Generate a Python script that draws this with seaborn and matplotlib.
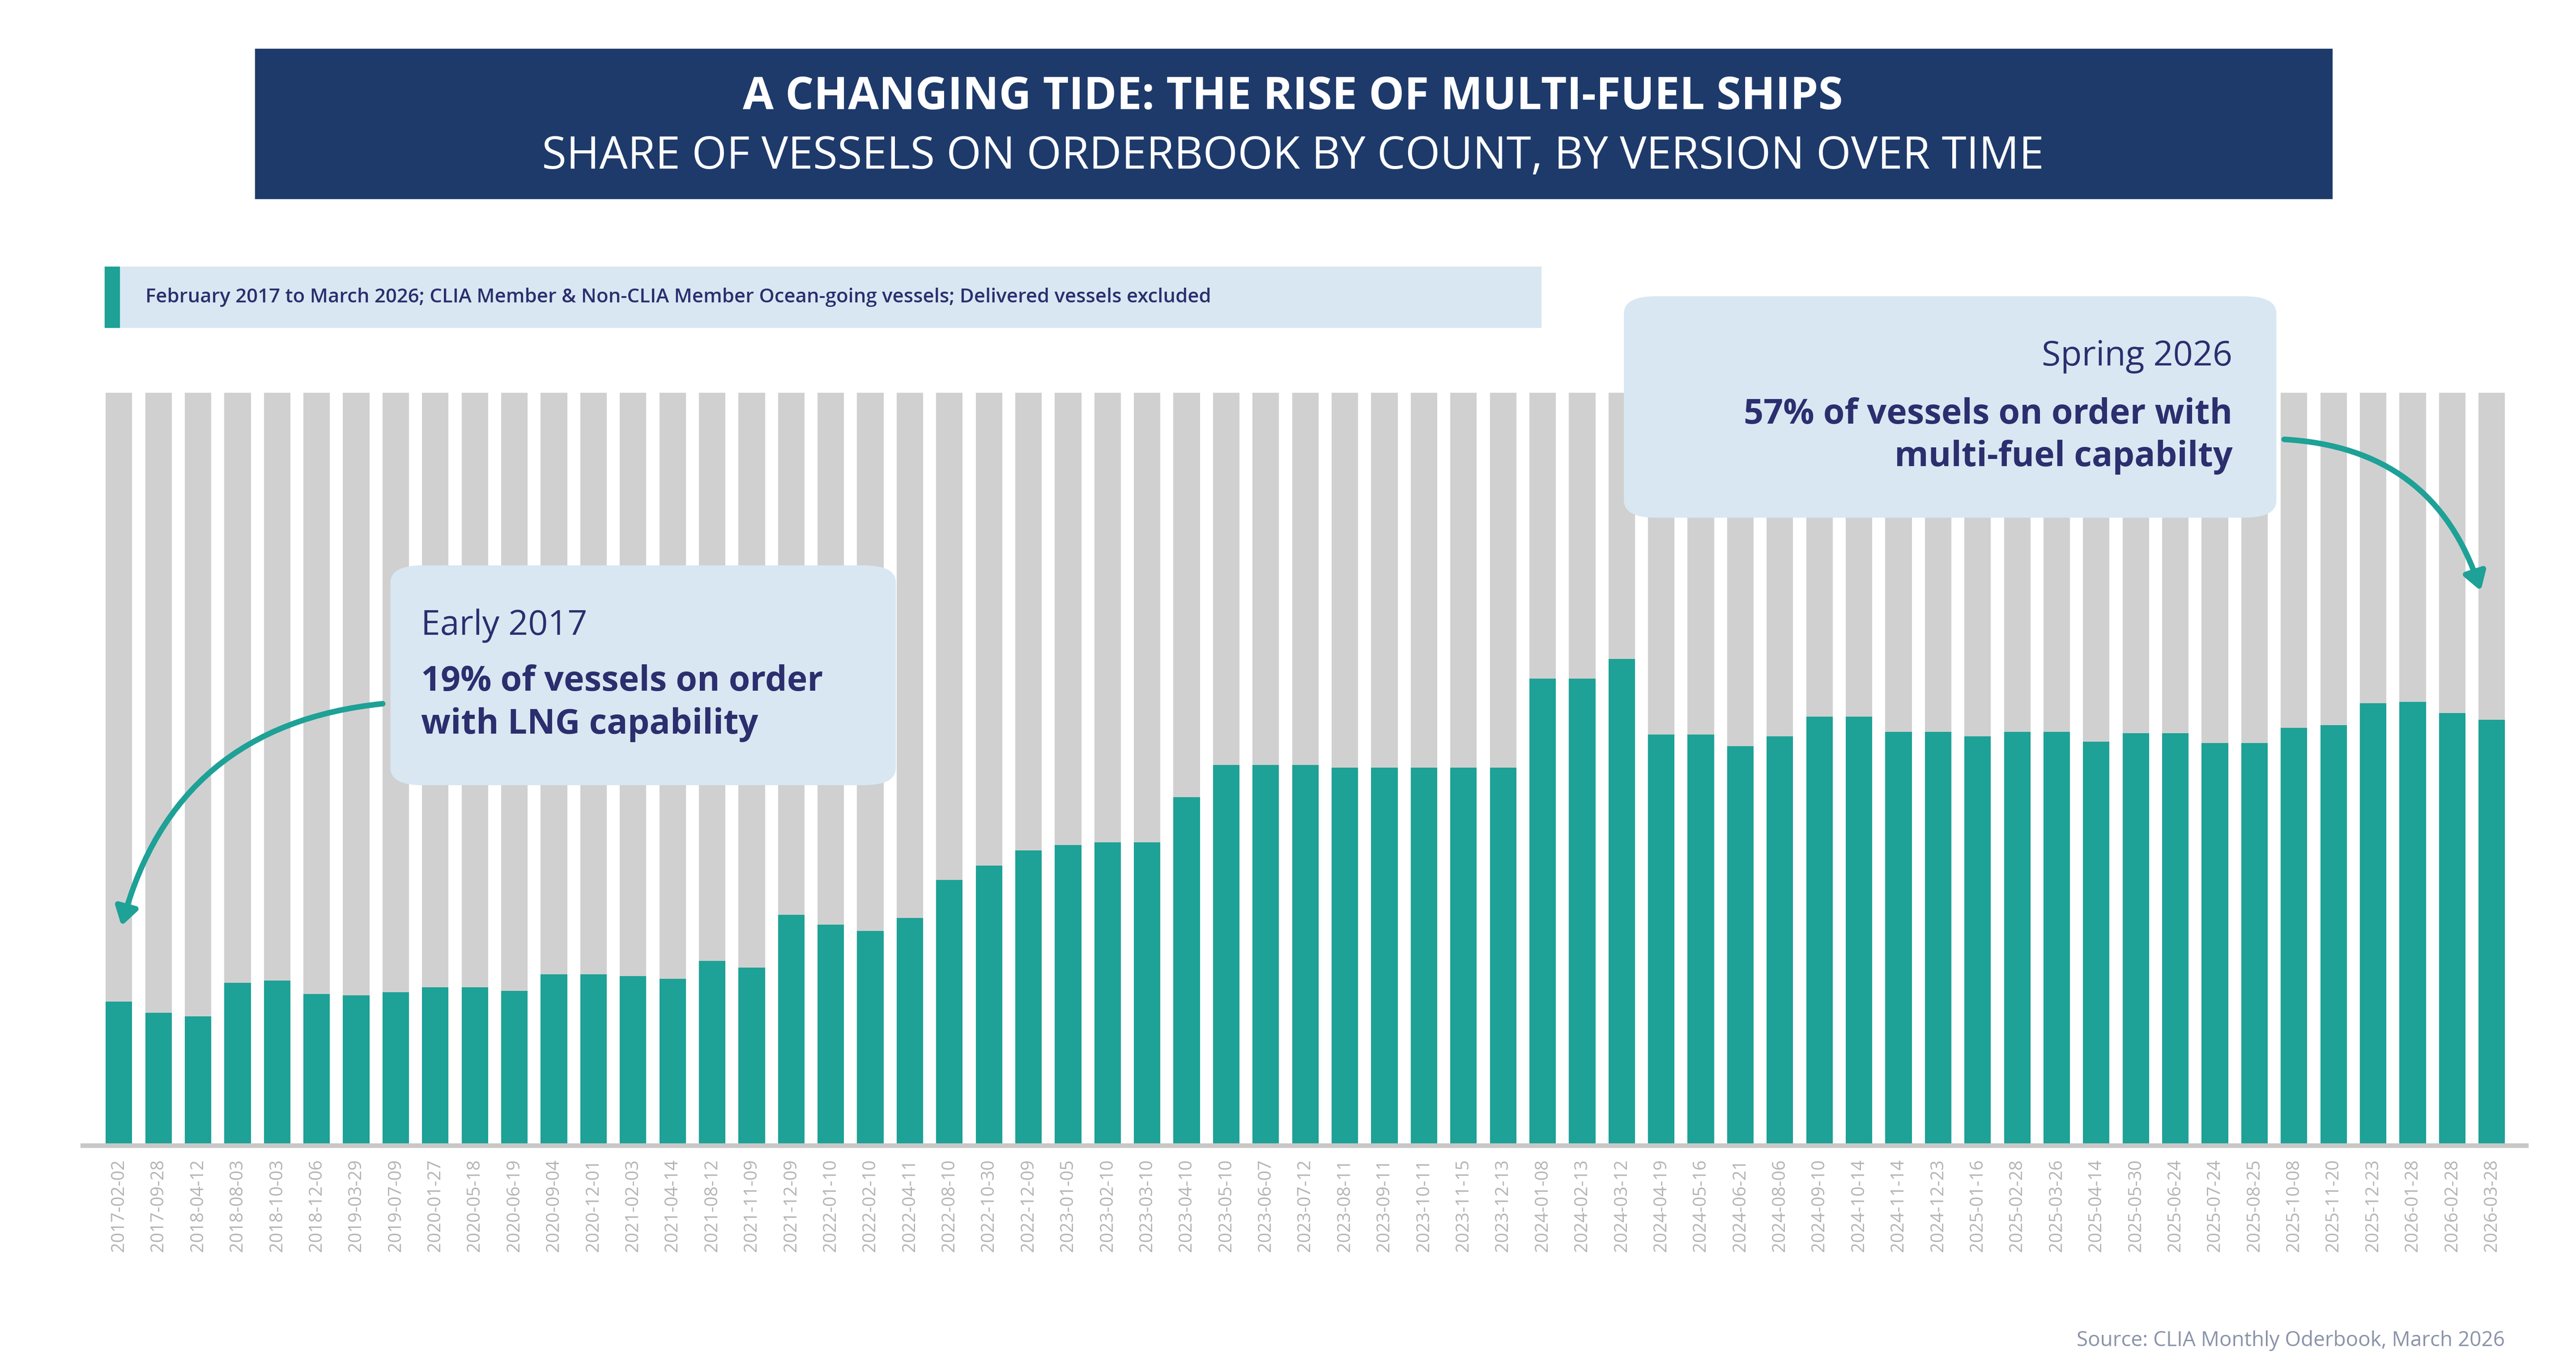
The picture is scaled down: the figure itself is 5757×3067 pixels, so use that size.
import matplotlib
matplotlib.use("Agg")
import matplotlib.pyplot as plt
import seaborn as sns
import pandas as pd
from matplotlib.patches import FancyBboxPatch, Rectangle, FancyArrowPatch

dates = ["2017-02-02","2017-09-28","2018-04-12","2018-08-03","2018-10-03","2018-12-06","2019-03-29","2019-07-09",
"2020-01-27","2020-05-18","2020-06-19","2020-09-04","2020-12-01","2021-02-03","2021-04-14","2021-08-12","2021-11-09",
"2021-12-09","2022-01-10","2022-02-10","2022-04-11","2022-08-10","2022-10-30","2022-12-09","2023-01-05","2023-02-10",
"2023-03-10","2023-04-10","2023-05-10","2023-06-07","2023-07-12","2023-08-11","2023-09-11","2023-10-11","2023-11-15",
"2023-12-13","2024-01-08","2024-02-13","2024-03-12","2024-04-19","2024-05-16","2024-06-21","2024-08-06","2024-09-10",
"2024-10-14","2024-11-14","2024-12-23","2025-01-16","2025-02-28","2025-03-26","2025-04-14","2025-05-30","2025-06-24",
"2025-07-24","2025-08-25","2025-10-08","2025-11-20","2025-12-23","2026-01-28","2026-02-28","2026-03-28"]
multi_fuel = [19,17.5,17,21.5,21.8,20,19.8,20.2,20.9,20.9,20.4,22.6,22.6,22.4,22,24.4,23.5,
30.5,29.2,28.4,30.1,35.2,37.1,39.1,39.8,40.2,40.2,46.2,50.5,50.5,50.5,50.1,50.1,50.1,50.1,
50.1,62,62,64.6,54.5,54.5,53,54.3,56.9,56.9,54.9,54.9,54.3,54.9,54.9,53.6,54.7,54.7,53.4,53.4,
55.4,55.8,58.7,58.9,57.4,56.5]
total = [100]*len(dates)

navy = "#1e3a6b"; teal = "#1ea196"; grey = "#d0d0d0"; light = "#d8e7f2"; txt = "#2b2f6e"
df = pd.DataFrame({"date": dates, "multi": multi_fuel, "total": total})

W, H = 5757, 3067
fig = plt.figure(figsize=(W/300, H/300), dpi=300)
plt.rcParams['font.family'] = ['Open Sans', 'DejaVu Sans']
L, R, B, T = 64/1560, 1517/1560, 1-693/831, 1-238/831
ax = fig.add_axes([L, B, R-L, T-B])
sns.barplot(data=df, x="date", y="total", color=grey, width=0.67, ax=ax, saturation=1)
sns.barplot(data=df, x="date", y="multi", color=teal, width=0.67, ax=ax, saturation=1)
n = len(dates)
ax.set_xlim(-0.5+0.165, n-0.5-0.165)
ax.set_ylim(0, 100)
ax.set_xlabel(""); ax.set_ylabel(""); ax.set_yticks([])
for s in ax.spines.values(): s.set_visible(False)
ax.tick_params(axis="x", length=0, pad=8, labelsize=9.5, labelcolor="#b4b4b4", rotation=90)
fig.add_artist(plt.Line2D([50/1560, 1530/1560], [B-0.001, B-0.001], color="#c8c8c8", lw=2.5))

def fx(x): return x/1560
def fy(y): return 1-y/831
fig.add_artist(Rectangle((fx(155), fy(120)), fx(1412-155), (120-30)/831, color=navy))
fig.text(fx(783), fy(59), "A CHANGING TIDE: THE RISE OF MULTI-FUEL SHIPS", color="white", fontsize=24, weight="bold", ha="center", va="center")
fig.text(fx(783), fy(95), "SHARE OF VESSELS ON ORDERBOOK BY COUNT, BY VERSION OVER TIME", color="white", fontsize=24, ha="center", va="center")
fig.add_artist(Rectangle((fx(64), fy(198)), fx(933-64), 36/831, color=light))
fig.add_artist(Rectangle((fx(64), fy(198)), fx(8), 36/831, color=teal))
fig.text(fx(88), fy(180), "February 2017 to March 2026; CLIA Member & Non-CLIA Member Ocean-going vessels; Delivered vessels excluded",
         color=txt, fontsize=10.5, va="center", weight="semibold")
for (x0, y0, x1, y1) in [(237, 343, 542, 475), (984, 180, 1378, 313)]:
    fig.add_artist(FancyBboxPatch((fx(x0), fy(y1)), fx(x1-x0), (y1-y0)/831,
                   boxstyle="round,pad=0,rounding_size=0.012", color=light, transform=fig.transFigure))
fig.text(fx(255), fy(379), "Early 2017", color=txt, fontsize=18.5, va="center")
fig.text(fx(255), fy(426), "19% of vessels on order\nwith LNG capability", color=txt, fontsize=18.5, weight="bold", va="center", linespacing=1.3)
fig.text(fx(1352), fy(216), "Spring 2026", color=txt, fontsize=18.5, va="center", ha="right")
fig.text(fx(1352), fy(264), "57% of vessels on order with\nmulti-fuel capabilty", color=txt, fontsize=18.5, weight="bold", va="center", ha="right", multialignment="right", linespacing=1.3)
fig.add_artist(FancyArrowPatch((fx(234), fy(426)), (fx(73), fy(563)), transform=fig.transFigure,
               connectionstyle="arc3,rad=0.35", arrowstyle="-|>,head_length=8,head_width=5", color=teal, lw=3))
fig.add_artist(FancyArrowPatch((fx(1381), fy(266)), (fx(1503), fy(360)), transform=fig.transFigure,
               connectionstyle="arc3,rad=-0.35", arrowstyle="-|>,head_length=8,head_width=5", color=teal, lw=3))
fig.text(fx(1517), fy(812), "Source: CLIA Monthly Oderbook, March 2026", color="#8a93a8", fontsize=11, ha="right", va="center")
fig.savefig("out.png", dpi=300, facecolor="white")
